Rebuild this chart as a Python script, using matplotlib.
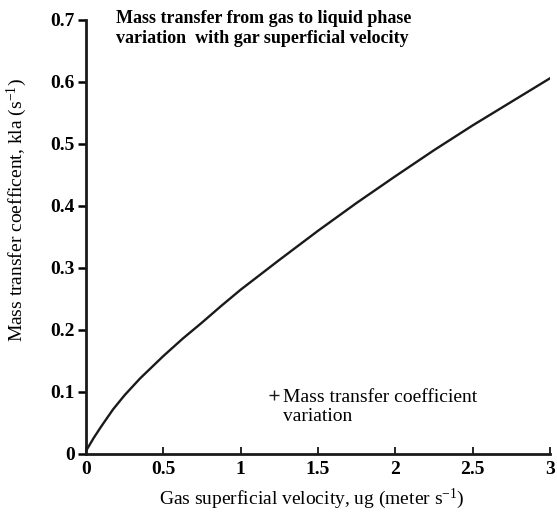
import matplotlib
matplotlib.use("Agg")
import matplotlib.pyplot as plt
from matplotlib.lines import Line2D
from matplotlib.legend_handler import HandlerLine2D

ug = [0.0, 0.05, 0.1, 0.175, 0.25, 0.35, 0.5, 0.625, 0.75, 0.875, 1.0, 1.25, 1.5, 1.75, 2.0, 2.25, 2.5, 2.75, 3.0]
kla = [0.005, 0.026, 0.045, 0.072, 0.095, 0.122, 0.158, 0.186, 0.212, 0.239, 0.265, 0.313, 0.360, 0.405, 0.448, 0.490, 0.530, 0.568, 0.606]
xticks = [0, 0.5, 1, 1.5, 2, 2.5, 3]
xticklabels = ["0", "0.5", "1", "1.5", "2", "2.5", "3"]
yticks = [0, 0.1, 0.2, 0.3, 0.4, 0.5, 0.6, 0.7]
yticklabels = ["0", "0.1", "0.2", "0.3", "0.4", "0.5", "0.6", "0.7"]

plt.rcParams['font.family'] = ['Liberation Serif', 'DejaVu Serif']
plt.rcParams['mathtext.default'] = 'regular'


class UpHandler(HandlerLine2D):
    def create_artists(self, legend, orig_handle, xdescent, ydescent, width, height, fontsize, trans):
        arts = super().create_artists(legend, orig_handle, xdescent, ydescent, width, height, fontsize, trans)
        for a in arts:
            a.set_ydata([y + 0.62 * fontsize for y in a.get_ydata()])
        return arts


fig = plt.figure(figsize=(5.57, 5.13), dpi=100)
ax = fig.add_axes([86/557, 59/513, (550-86)/557, (454-20)/513])

ax.plot(ug, kla, color='#1a1a1a', lw=1.7)

ax.set_xlim(0, 3)
ax.set_ylim(0, 0.7)
ax.set_xticks(xticks)
ax.set_xticklabels(xticklabels, fontsize=14, fontweight='bold')
ax.set_yticks(yticks)
ax.set_yticklabels(yticklabels, fontsize=14, fontweight='bold')
ax.tick_params(axis='y', direction='out', length=6, width=1.8, pad=2)
ax.tick_params(axis='x', direction='in', length=5, width=1.2, pad=5)
for s in ['top', 'right']:
    ax.spines[s].set_visible(False)
for s in ['left', 'bottom']:
    ax.spines[s].set_linewidth(2.0)
    ax.spines[s].set_color('#1a1a1a')

ax.set_xlabel('Gas superficial velocity, ug (meter s$^{-1}$)', fontsize=14)
ax.set_ylabel('Mass transfer coefficent, kla (s$^{-1}$)', fontsize=14)
ax.xaxis.set_label_coords((312-86)/464, -(487-454)/434)
ax.yaxis.set_label_coords(-(86-29)/464, (454-210)/434)

fig.text(116/557, 1 - 10/513, 'Mass transfer from gas to liquid phase\nvariation  with gar superficial velocity',
         fontsize=13, fontweight='bold', va='top', ha='left', linespacing=1.2)

h = Line2D([], [], ls='none', marker='+', color='#1a1a1a', markersize=7)
ax.legend([h], ['Mass transfer coefficient\nvariation'], loc='upper left',
          bbox_to_anchor=((260-86)/464, (454-381)/434), frameon=False, fontsize=14,
          handlelength=0.6, handletextpad=0.2, borderaxespad=0, labelspacing=0.2,
          handler_map={Line2D: UpHandler()})

fig.savefig('out.png', dpi=100)
